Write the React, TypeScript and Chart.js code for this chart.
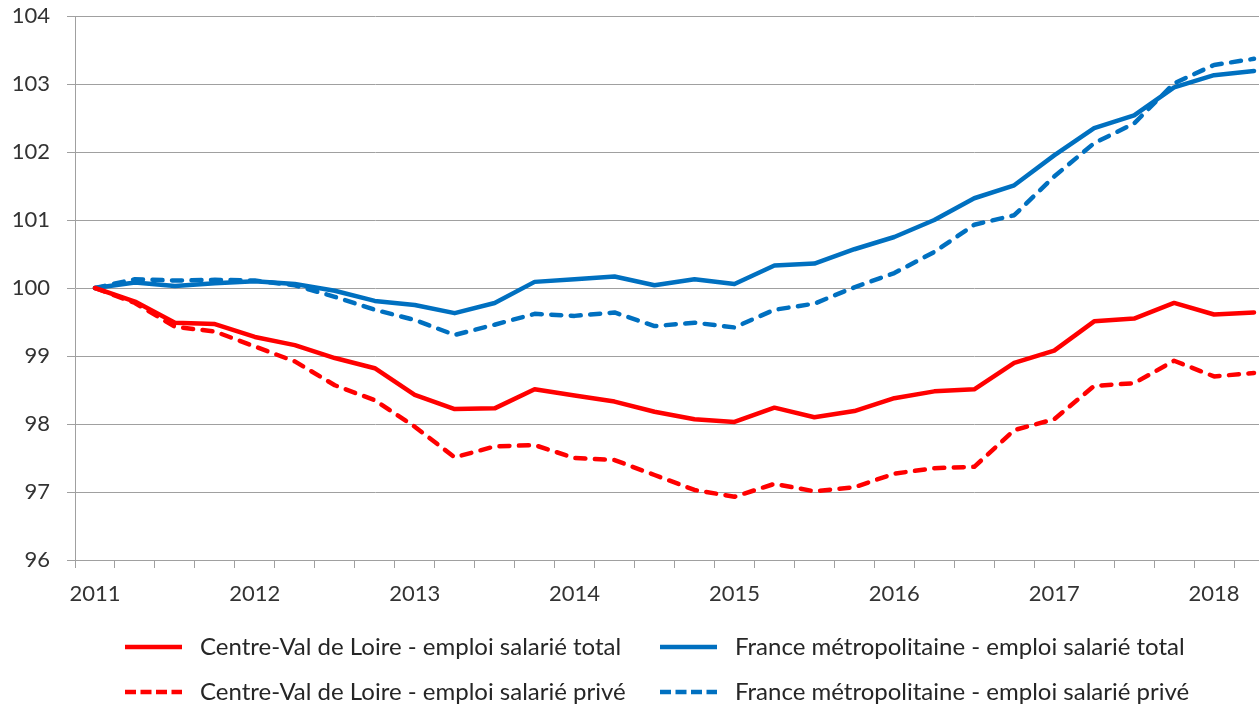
import React, { useEffect, useRef } from "react";
import { Chart, registerables } from "chart.js";

Chart.register(...registerables);

const quarters = [
  "2011 T1", "2011 T2", "2011 T3", "2011 T4",
  "2012 T1", "2012 T2", "2012 T3", "2012 T4",
  "2013 T1", "2013 T2", "2013 T3", "2013 T4",
  "2014 T1", "2014 T2", "2014 T3", "2014 T4",
  "2015 T1", "2015 T2", "2015 T3", "2015 T4",
  "2016 T1", "2016 T2", "2016 T3", "2016 T4",
  "2017 T1", "2017 T2", "2017 T3", "2017 T4",
  "2018 T1", "2018 T2",
];

const centreTotal = [
  100, 99.8, 99.49, 99.47, 99.28, 99.16, 98.97, 98.82, 98.43, 98.22,
  98.23, 98.51, 98.42, 98.33, 98.18, 98.07, 98.03, 98.24, 98.1, 98.19,
  98.38, 98.48, 98.51, 98.9, 99.08, 99.51, 99.55, 99.78, 99.61, 99.64,
];

const centrePrive = [
  100, 99.78, 99.43, 99.36, 99.14, 98.92, 98.57, 98.35, 97.96, 97.51,
  97.67, 97.69, 97.5, 97.47, 97.25, 97.03, 96.93, 97.12, 97.01, 97.07,
  97.27, 97.35, 97.37, 97.91, 98.07, 98.56, 98.6, 98.93, 98.7, 98.75,
];

const franceTotal = [
  100, 100.08, 100.03, 100.07, 100.1, 100.06, 99.96, 99.81, 99.75, 99.63,
  99.78, 100.09, 100.13, 100.17, 100.04, 100.13, 100.06, 100.33, 100.36, 100.57,
  100.75, 101.0, 101.32, 101.51, 101.95, 102.35, 102.54, 102.95, 103.13, 103.19,
];

const francePrive = [
  100, 100.13, 100.11, 100.12, 100.11, 100.04, 99.87, 99.68, 99.53, 99.31,
  99.46, 99.62, 99.59, 99.64, 99.44, 99.49, 99.42, 99.68, 99.77, 100.01,
  100.22, 100.53, 100.93, 101.07, 101.64, 102.13, 102.42, 103.01, 103.28, 103.37,
];

const seriesNames = [
  "Centre-Val de Loire - emploi salarié total",
  "France métropolitaine - emploi salarié total",
  "Centre-Val de Loire - emploi salarié privé",
  "France métropolitaine - emploi salarié privé",
];

const RED = "#FF0000";
const BLUE = "#0070C0";
const GRID = "#A0A0A0";
const TEXT = "#333333";
const LEGEND_TEXT = "#262626";
const FONT = "Lato";

// Legend drawn on the canvas in two columns, two rows
const legendPlugin = {
  id: "twoColumnLegend",
  afterDraw(chart: any) {
    const ctx = chart.ctx as CanvasRenderingContext2D;
    const colX = [125, 660];
    const rowY = [647, 692];
    const lineLen = 57;
    const gap = 18;
    chart.data.datasets.forEach((ds: any, i: number) => {
      const x = colX[i % 2];
      const y = rowY[Math.floor(i / 2)];
      ctx.save();
      ctx.strokeStyle = ds.borderColor;
      ctx.lineWidth = ds.borderWidth;
      ctx.lineCap = "butt";
      ctx.setLineDash(ds.borderDash ? [11, 4.5] : []);
      ctx.beginPath();
      ctx.moveTo(x, y);
      ctx.lineTo(x + lineLen, y);
      ctx.stroke();
      ctx.setLineDash([]);
      ctx.fillStyle = LEGEND_TEXT;
      ctx.font = `24px ${FONT}`;
      ctx.textAlign = "left";
      ctx.textBaseline = "middle";
      ctx.fillText(ds.label, x + lineLen + gap, y);
      ctx.restore();
    });
  },
};

export default function App() {
  const canvasRef = useRef<HTMLCanvasElement | null>(null);

  useEffect(() => {
    const canvas = canvasRef.current;
    if (!canvas) return;
    const common = {
      borderWidth: 4.5,
      pointRadius: 0,
      pointHoverRadius: 0,
      tension: 0,
      fill: false,
      borderJoinStyle: "round" as const,
      borderCapStyle: "round" as const,
    };
    const dash = [10, 9.5];
    const chart = new Chart(canvas, {
      type: "line",
      data: {
        labels: quarters,
        datasets: [
          { ...common, label: seriesNames[0], data: centreTotal, borderColor: RED, backgroundColor: RED },
          { ...common, label: seriesNames[1], data: franceTotal, borderColor: BLUE, backgroundColor: BLUE },
          { ...common, label: seriesNames[2], data: centrePrive, borderColor: RED, backgroundColor: RED, borderDash: dash },
          { ...common, label: seriesNames[3], data: francePrive, borderColor: BLUE, backgroundColor: BLUE, borderDash: dash },
        ],
      },
      options: {
        animation: false,
        responsive: false,
        maintainAspectRatio: false,
        devicePixelRatio: 1,
        layout: { padding: { top: 16, left: 0, right: 0, bottom: 93 } },
        plugins: {
          tooltip: { enabled: false },
          legend: { display: false },
        },
        scales: {
          x: {
            type: "category",
            offset: true,
            afterFit: (scale: any) => {
              scale.height = 53;
              scale.paddingLeft = 0;
              scale.paddingRight = 0;
            },
            grid: {
              offset: true,
              drawOnChartArea: false,
              drawTicks: true,
              tickLength: 8,
              tickColor: GRID,
              lineWidth: 1,
            },
            border: { display: true, color: GRID, width: 1 },
            ticks: {
              autoSkip: false,
              maxRotation: 0,
              minRotation: 0,
              padding: 13,
              color: TEXT,
              font: { family: FONT, size: 22 },
              callback: (_v: any, i: number) => {
                const q = quarters[i];
                return q.endsWith("T1") ? q.slice(0, 4) : "";
              },
            },
          },
          y: {
            min: 96,
            max: 104,
            afterFit: (scale: any) => {
              scale.width = 75;
              scale.paddingTop = 0;
              scale.paddingBottom = 0;
            },
            grid: {
              color: GRID,
              lineWidth: 1,
              drawTicks: true,
              tickLength: 8,
              tickColor: GRID,
            },
            border: { display: true, color: GRID, width: 1 },
            ticks: {
              stepSize: 1,
              padding: 17,
              color: TEXT,
              font: { family: FONT, size: 22 },
            },
          },
        },
      },
      plugins: [legendPlugin],
    });
    return () => chart.destroy();
  }, []);

  return (
    <div
      style={{
        position: "fixed",
        left: 0,
        top: 0,
        width: 1259,
        height: 706,
        overflow: "hidden",
        background: "#ffffff",
      }}
    >
      <canvas
        ref={canvasRef}
        width={1274}
        height={706}
        style={{ display: "block", width: 1274, height: 706 }}
      />
    </div>
  );
}
